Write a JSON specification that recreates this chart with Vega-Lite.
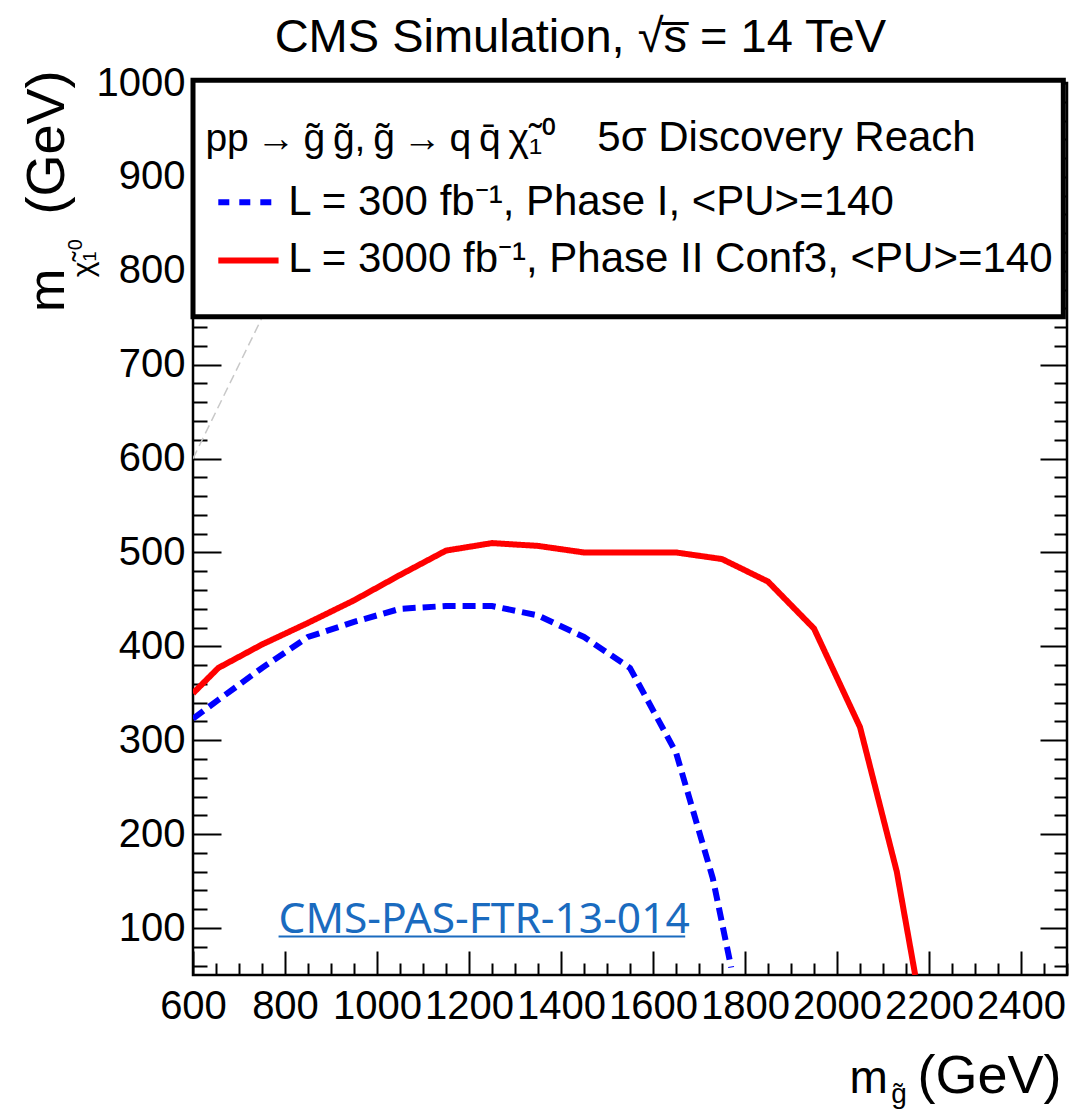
{
  "$schema": "https://vega.github.io/schema/vega-lite/v6.json",
  "width": 874,
  "height": 892,
  "autosize": "none",
  "padding": {"left": 193, "top": 83, "right": 24, "bottom": 138},
  "background": "white",
  "config": {
    "view": {"stroke": "black", "strokeWidth": 2.5},
    "font": "Liberation Sans",
    "text": {"font": "Liberation Sans", "color": "black"}
  },
  "datasets": {
    "curves": [
      {"series": "Phase I", "x": 600, "y": 323},
      {"series": "Phase I", "x": 655, "y": 343},
      {"series": "Phase I", "x": 750, "y": 377},
      {"series": "Phase I", "x": 850, "y": 410},
      {"series": "Phase I", "x": 950, "y": 426},
      {"series": "Phase I", "x": 1050, "y": 440},
      {"series": "Phase I", "x": 1150, "y": 443},
      {"series": "Phase I", "x": 1250, "y": 443},
      {"series": "Phase I", "x": 1350, "y": 433},
      {"series": "Phase I", "x": 1450, "y": 410},
      {"series": "Phase I", "x": 1550, "y": 377},
      {"series": "Phase I", "x": 1650, "y": 287},
      {"series": "Phase I", "x": 1730, "y": 153},
      {"series": "Phase I", "x": 1770, "y": 58},
      {"series": "Phase II Conf3", "x": 600, "y": 350},
      {"series": "Phase II Conf3", "x": 655, "y": 377},
      {"series": "Phase II Conf3", "x": 750, "y": 402},
      {"series": "Phase II Conf3", "x": 850, "y": 425},
      {"series": "Phase II Conf3", "x": 950, "y": 449},
      {"series": "Phase II Conf3", "x": 1050, "y": 476},
      {"series": "Phase II Conf3", "x": 1150, "y": 502},
      {"series": "Phase II Conf3", "x": 1250, "y": 510},
      {"series": "Phase II Conf3", "x": 1350, "y": 507},
      {"series": "Phase II Conf3", "x": 1450, "y": 500},
      {"series": "Phase II Conf3", "x": 1550, "y": 500},
      {"series": "Phase II Conf3", "x": 1650, "y": 500},
      {"series": "Phase II Conf3", "x": 1750, "y": 493},
      {"series": "Phase II Conf3", "x": 1850, "y": 469},
      {"series": "Phase II Conf3", "x": 1950, "y": 419},
      {"series": "Phase II Conf3", "x": 2050, "y": 314},
      {"series": "Phase II Conf3", "x": 2130, "y": 160},
      {"series": "Phase II Conf3", "x": 2170, "y": 50}
    ],
    "diag": [
      {"x": 600, "y": 600},
      {"x": 1000, "y": 1000}
    ],
    "one": [{"k": 1}]
  },
  "layer": [
    {
      "data": {"name": "diag"},
      "mark": {"type": "line", "color": "#c8c8c8", "strokeWidth": 1.5, "strokeDash": [9, 5], "clip": true},
      "encoding": {
        "x": {"field": "x", "type": "quantitative", "scale": {"domain": [600, 2500], "nice": false, "zero": false}, "axis": null},
        "y": {"field": "y", "type": "quantitative", "scale": {"domain": [50, 1000], "nice": false, "zero": false},
          "axis": {
            "orient": "right", "title": null, "labels": false, "domain": false, "grid": false,
            "values": [60,80,100,120,140,160,180,200,220,240,260,280,300,320,340,360,380,400,420,440,460,480,500,520,540,560,580,600,620,640,660,680,700,720,740,760,780,800,820,840,860,880,900,920,940,960,980,1000],
            "tickColor": "black", "tickWidth": 2,
            "tickSize": {"condition": {"test": "datum.value % 100 === 0", "value": -27}, "value": -13}
          }
        }
      }
    },
    {
      "data": {"name": "curves"},
      "mark": {"type": "line", "strokeWidth": 6, "clip": true},
      "encoding": {
        "x": {"field": "x", "type": "quantitative", "scale": {"domain": [600, 2500], "nice": false, "zero": false},
          "axis": {
            "orient": "bottom", "title": null, "domain": false, "grid": false, "format": "d",
            "values": [600,650,700,750,800,850,900,950,1000,1050,1100,1150,1200,1250,1300,1350,1400,1450,1500,1550,1600,1650,1700,1750,1800,1850,1900,1950,2000,2050,2100,2150,2200,2250,2300,2350,2400,2450,2500],
            "labelExpr": "datum.value % 200 === 0 ? datum.label : ''",
            "tickColor": "black", "tickWidth": 2,
            "tickSize": {"condition": {"test": "datum.value % 200 === 0", "value": -24}, "value": -12},
            "labelFont": "Liberation Sans", "labelFontSize": 40, "labelColor": "black",
            "labelPadding": 35, "labelOverlap": false, "labelFlush": false, "labelBound": false
          }
        },
        "y": {"field": "y", "type": "quantitative", "scale": {"domain": [50, 1000], "nice": false, "zero": false},
          "axis": {
            "orient": "left", "title": null, "domain": false, "grid": false, "format": "d",
            "values": [60,80,100,120,140,160,180,200,220,240,260,280,300,320,340,360,380,400,420,440,460,480,500,520,540,560,580,600,620,640,660,680,700,720,740,760,780,800,820,840,860,880,900,920,940,960,980,1000],
            "labelExpr": "datum.value % 100 === 0 ? datum.label : ''",
            "tickColor": "black", "tickWidth": 2,
            "tickSize": {"condition": {"test": "datum.value % 100 === 0", "value": -28}, "value": -14},
            "labelFont": "Liberation Sans", "labelFontSize": 40, "labelColor": "black",
            "labelPadding": 36, "labelOverlap": false, "labelFlush": false, "labelBound": false
          }
        },
        "color": {"field": "series", "type": "nominal", "scale": {"domain": ["Phase I", "Phase II Conf3"], "range": ["#0000ff", "#ff0000"]}, "legend": null},
        "strokeDash": {"field": "series", "type": "nominal", "scale": {"domain": ["Phase I", "Phase II Conf3"], "range": [[13, 7], [1, 0]]}, "legend": null}
      }
    },
    {
      "data": {"name": "one"},
      "mark": {"type": "rect", "fill": "white", "stroke": "black", "strokeWidth": 5},
      "encoding": {
        "x": {"datum": 600, "type": "quantitative", "scale": {"domain": [600, 2500], "nice": false, "zero": false}, "axis": null},
        "x2": {"datum": 2492},
        "y": {"datum": 751, "type": "quantitative", "scale": {"domain": [50, 1000], "nice": false, "zero": false}, "axis": null},
        "y2": {"datum": 1003}
      }
    },
    {
      "data": {"name": "one"},
      "mark": {"type": "rule", "color": "#0000ff", "strokeWidth": 6, "strokeDash": [11, 10]},
      "encoding": {
        "x": {"datum": 655, "type": "quantitative", "scale": {"domain": [600, 2500], "nice": false, "zero": false}, "axis": null},
        "x2": {"datum": 776},
        "y": {"datum": 873, "type": "quantitative", "scale": {"domain": [50, 1000], "nice": false, "zero": false}, "axis": null}
      }
    },
    {
      "data": {"name": "one"},
      "mark": {"type": "rule", "color": "#ff0000", "strokeWidth": 6},
      "encoding": {
        "x": {"datum": 655, "type": "quantitative", "scale": {"domain": [600, 2500], "nice": false, "zero": false}, "axis": null},
        "x2": {"datum": 786},
        "y": {"datum": 811, "type": "quantitative", "scale": {"domain": [50, 1000], "nice": false, "zero": false}, "axis": null}
      }
    },
    {
      "data": {"name": "one"},
      "mark": {"type": "text", "text": "pp\u2009→\u2009g̃\u2009g̃,\u2009g̃\u2009→\u2009q\u2009q̄\u2009χ̃₁⁰", "fontSize": 39, "align": "left", "baseline": "alphabetic"},
      "encoding": {
        "x": {"datum": 627, "type": "quantitative", "scale": {"domain": [600, 2500], "nice": false, "zero": false}, "axis": null},
        "y": {"datum": 928, "type": "quantitative", "scale": {"domain": [50, 1000], "nice": false, "zero": false}, "axis": null}
      }
    },
    {
      "data": {"name": "one"},
      "mark": {"type": "text", "text": "5σ Discovery Reach", "fontSize": 42, "align": "left", "baseline": "alphabetic"},
      "encoding": {
        "x": {"datum": 1479, "type": "quantitative", "scale": {"domain": [600, 2500], "nice": false, "zero": false}, "axis": null},
        "y": {"datum": 928, "type": "quantitative", "scale": {"domain": [50, 1000], "nice": false, "zero": false}, "axis": null}
      }
    },
    {
      "data": {"name": "one"},
      "mark": {"type": "text", "text": "L = 300 fb⁻¹, Phase I, <PU>=140", "fontSize": 42, "align": "left", "baseline": "alphabetic"},
      "encoding": {
        "x": {"datum": 807, "type": "quantitative", "scale": {"domain": [600, 2500], "nice": false, "zero": false}, "axis": null},
        "y": {"datum": 859, "type": "quantitative", "scale": {"domain": [50, 1000], "nice": false, "zero": false}, "axis": null}
      }
    },
    {
      "data": {"name": "one"},
      "mark": {"type": "text", "text": "L = 3000 fb⁻¹, Phase II Conf3, <PU>=140", "fontSize": 42, "align": "left", "baseline": "alphabetic"},
      "encoding": {
        "x": {"datum": 807, "type": "quantitative", "scale": {"domain": [600, 2500], "nice": false, "zero": false}, "axis": null},
        "y": {"datum": 798.6, "type": "quantitative", "scale": {"domain": [50, 1000], "nice": false, "zero": false}, "axis": null}
      }
    },
    {
      "data": {"name": "one"},
      "mark": {"type": "text", "text": "CMS Simulation, √s̅ = 14 TeV", "fontSize": 47, "align": "center", "baseline": "alphabetic"},
      "encoding": {
        "x": {"datum": 1442, "type": "quantitative", "scale": {"domain": [600, 2500], "nice": false, "zero": false}, "axis": null},
        "y": {"datum": 1032.7, "type": "quantitative", "scale": {"domain": [50, 1000], "nice": false, "zero": false}, "axis": null}
      }
    },
    {
      "data": {"name": "one"},
      "mark": {"type": "text", "text": "CMS-PAS-FTR-13-014", "font": "Noto Sans", "fontSize": 42.5, "color": "#1a6bbf", "align": "left", "baseline": "alphabetic"},
      "encoding": {
        "x": {"datum": 786, "type": "quantitative", "scale": {"domain": [600, 2500], "nice": false, "zero": false}, "axis": null},
        "y": {"datum": 94.7, "type": "quantitative", "scale": {"domain": [50, 1000], "nice": false, "zero": false}, "axis": null}
      }
    },
    {
      "data": {"name": "one"},
      "mark": {"type": "rule", "color": "#1a6bbf", "strokeWidth": 2},
      "encoding": {
        "x": {"datum": 786, "type": "quantitative", "scale": {"domain": [600, 2500], "nice": false, "zero": false}, "axis": null},
        "x2": {"datum": 1670},
        "y": {"datum": 91, "type": "quantitative", "scale": {"domain": [50, 1000], "nice": false, "zero": false}, "axis": null}
      }
    },
    {
      "data": {"name": "one"},
      "mark": {"type": "text", "text": "m", "fontSize": 46, "align": "left", "baseline": "alphabetic"},
      "encoding": {
        "x": {"datum": 2027, "type": "quantitative", "scale": {"domain": [600, 2500], "nice": false, "zero": false}, "axis": null},
        "y": {"datum": -75.5, "type": "quantitative", "scale": {"domain": [50, 1000], "nice": false, "zero": false}, "axis": null}
      }
    },
    {
      "data": {"name": "one"},
      "mark": {"type": "text", "text": "g̃", "fontSize": 28, "align": "left", "baseline": "alphabetic"},
      "encoding": {
        "x": {"datum": 2118, "type": "quantitative", "scale": {"domain": [600, 2500], "nice": false, "zero": false}, "axis": null},
        "y": {"datum": -86, "type": "quantitative", "scale": {"domain": [50, 1000], "nice": false, "zero": false}, "axis": null}
      }
    },
    {
      "data": {"name": "one"},
      "mark": {"type": "text", "text": "(GeV)", "fontSize": 54, "align": "right", "baseline": "alphabetic"},
      "encoding": {
        "x": {"datum": 2488, "type": "quantitative", "scale": {"domain": [600, 2500], "nice": false, "zero": false}, "axis": null},
        "y": {"datum": -75.5, "type": "quantitative", "scale": {"domain": [50, 1000], "nice": false, "zero": false}, "axis": null}
      }
    },
    {
      "data": {"name": "one"},
      "mark": {"type": "text", "text": "m", "fontSize": 52, "angle": 270, "align": "left", "baseline": "alphabetic"},
      "encoding": {
        "x": {"datum": 320, "type": "quantitative", "scale": {"domain": [600, 2500], "nice": false, "zero": false}, "axis": null},
        "y": {"datum": 756, "type": "quantitative", "scale": {"domain": [50, 1000], "nice": false, "zero": false}, "axis": null}
      }
    },
    {
      "data": {"name": "one"},
      "mark": {"type": "text", "text": "χ̃₁", "fontSize": 30, "angle": 270, "align": "left", "baseline": "alphabetic"},
      "encoding": {
        "x": {"datum": 383, "type": "quantitative", "scale": {"domain": [600, 2500], "nice": false, "zero": false}, "axis": null},
        "y": {"datum": 793, "type": "quantitative", "scale": {"domain": [50, 1000], "nice": false, "zero": false}, "axis": null}
      }
    },
    {
      "data": {"name": "one"},
      "mark": {"type": "text", "text": "0", "fontSize": 20, "angle": 270, "align": "left", "baseline": "alphabetic"},
      "encoding": {
        "x": {"datum": 358, "type": "quantitative", "scale": {"domain": [600, 2500], "nice": false, "zero": false}, "axis": null},
        "y": {"datum": 822, "type": "quantitative", "scale": {"domain": [50, 1000], "nice": false, "zero": false}, "axis": null}
      }
    },
    {
      "data": {"name": "one"},
      "mark": {"type": "text", "text": "(GeV)", "fontSize": 54, "angle": 270, "align": "left", "baseline": "alphabetic"},
      "encoding": {
        "x": {"datum": 320, "type": "quantitative", "scale": {"domain": [600, 2500], "nice": false, "zero": false}, "axis": null},
        "y": {"datum": 860, "type": "quantitative", "scale": {"domain": [50, 1000], "nice": false, "zero": false}, "axis": null}
      }
    }
  ],
  "resolve": {"axis": {"x": "independent", "y": "independent"}}
}
